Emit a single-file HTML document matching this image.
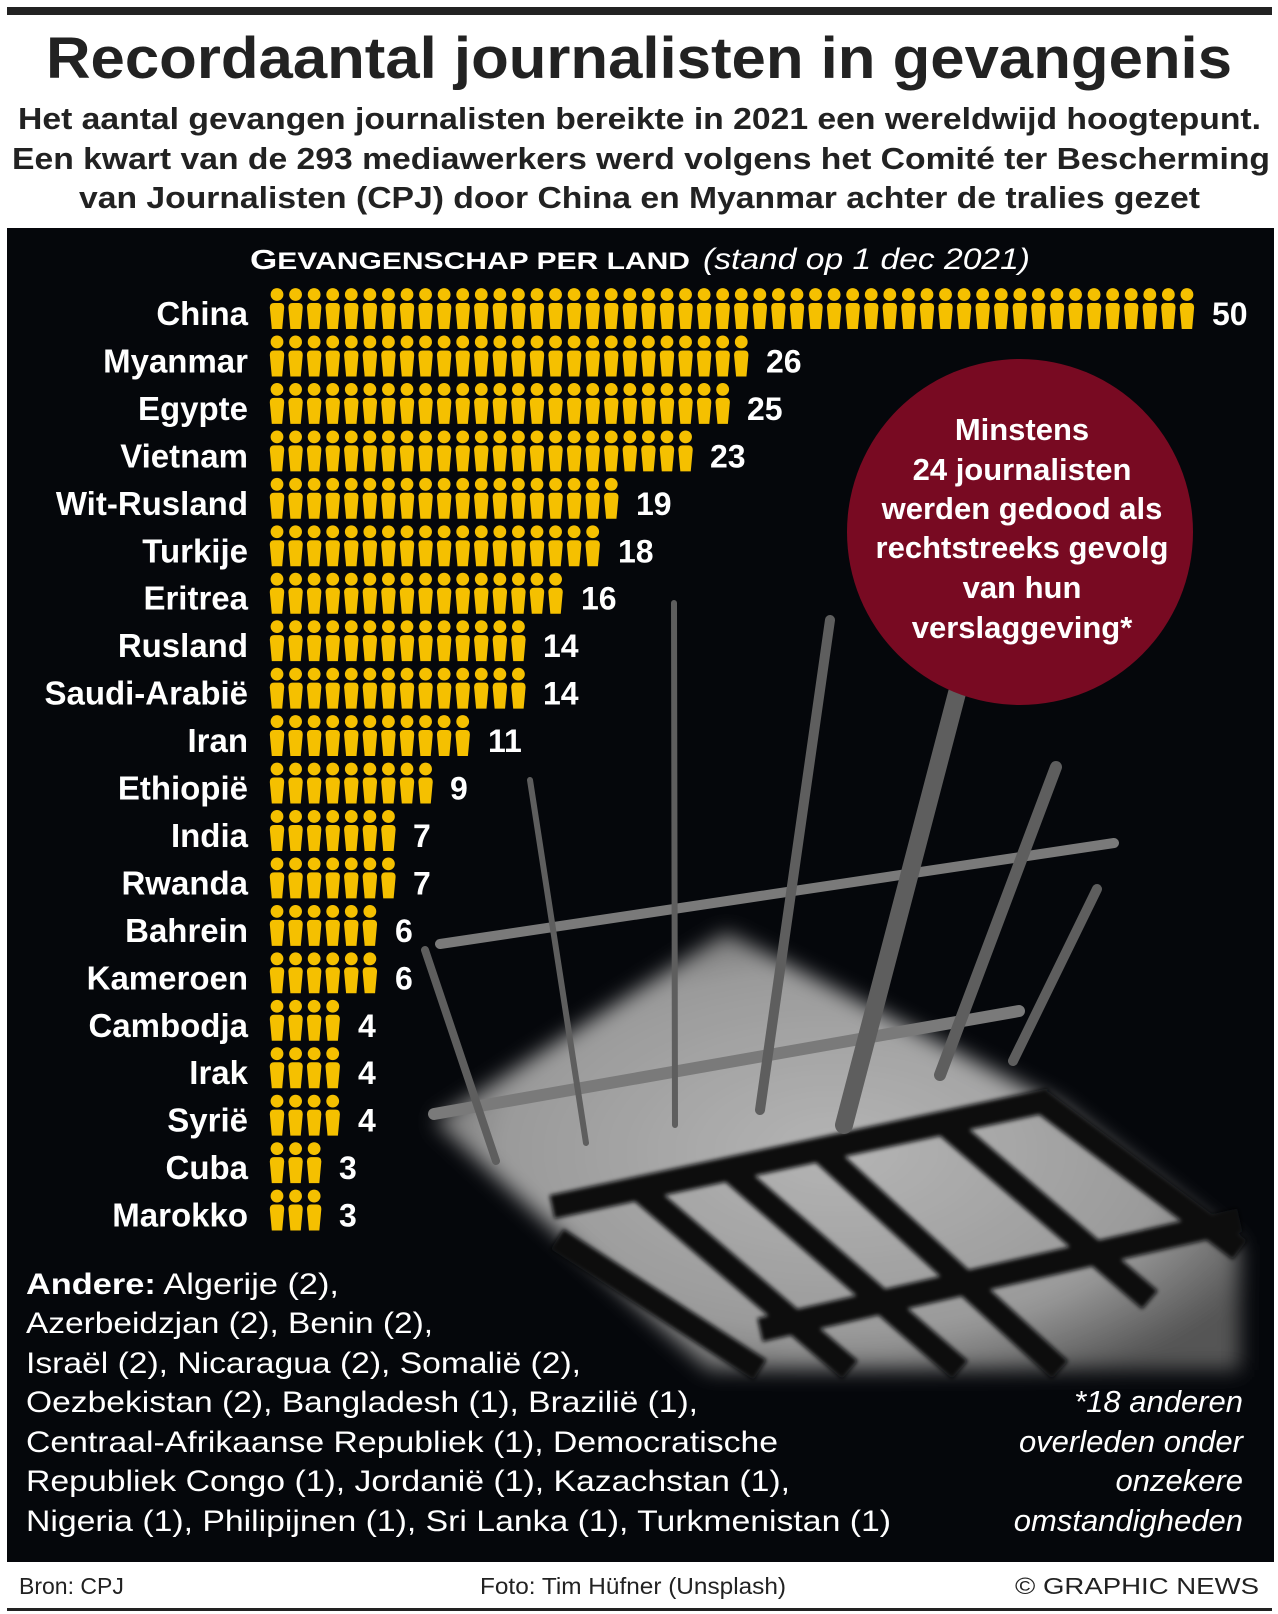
<!DOCTYPE html>
<html><head><meta charset="utf-8"><style>
html,body{margin:0;padding:0;background:#fff}
svg{display:block}
text{font-family:"Liberation Sans",sans-serif}
</style></head><body>
<svg width="1278" height="1614" viewBox="0 0 1278 1614" xmlns="http://www.w3.org/2000/svg">
<defs>
<g id="p"><circle cx="0" cy="6.5" r="6.4"/><path d="M-7.2,19.5 Q-7.2,15 -3,15 L3,15 Q7.2,15 7.2,19.5 L5.2,41 L-5.2,41 Z"/></g>
<g id="b5"><use href="#p" x="0" y="0"/><use href="#p" x="18.57" y="0"/><use href="#p" x="37.14" y="0"/><use href="#p" x="55.71" y="0"/><use href="#p" x="74.28" y="0"/></g>
<filter id="bl"><feGaussianBlur stdDeviation="10"/></filter>
<filter id="bl2"><feGaussianBlur stdDeviation="2"/></filter>
<radialGradient id="lit" cx="0.5" cy="0.5" r="0.6">
<stop offset="0" stop-color="#b4b4b4"/><stop offset="0.7" stop-color="#9a9a9a"/><stop offset="1" stop-color="#555"/>
</radialGradient>
</defs>
<rect x="7" y="7" width="1265" height="8" fill="#222"/>
<rect x="7" y="228" width="1267" height="1334" fill="#05070b"/>
<polygon points="726,932 1058,1104 1240,1246 1240,1370 709,1370 434,1121" fill="url(#lit)" filter="url(#bl)"/>
<g stroke="#07080b" stroke-width="24" filter="url(#bl2)">
<line x1="552" y1="1207" x2="1050" y2="1100"/>
<line x1="760" y1="1330" x2="1240" y2="1220"/>
<line x1="557" y1="1239" x2="760" y2="1370"/>
<line x1="640" y1="1190" x2="850" y2="1370"/>
<line x1="730" y1="1170" x2="960" y2="1370"/>
<line x1="820" y1="1150" x2="1060" y2="1370"/>
<line x1="940" y1="1120" x2="1150" y2="1300"/>
<line x1="1040" y1="1100" x2="1240" y2="1250"/>
</g>
<g stroke="#5e5e5e" stroke-linecap="round">
<line x1="440" y1="944" x2="1114" y2="843" stroke-width="10" stroke="#7a7a7a"/>
<line x1="434" y1="1114" x2="1019" y2="1011" stroke-width="12" stroke="#7a7a7a"/>
<line x1="674" y1="603" x2="675" y2="1125" stroke-width="6"/>
<line x1="830" y1="620" x2="760" y2="1110" stroke-width="10"/>
<line x1="957" y1="693" x2="844" y2="1125" stroke-width="18"/>
<line x1="1056" y1="767" x2="940" y2="1075" stroke-width="12"/>
<line x1="1097" y1="889" x2="1013" y2="1061" stroke-width="10"/>
<line x1="425" y1="950" x2="496" y2="1161" stroke-width="8"/>
<line x1="530" y1="780" x2="586" y2="1143" stroke-width="6"/>
</g>
<circle cx="1020" cy="532" r="173" fill="#780a22"/>
<g fill="#fff" font-weight="bold" font-size="31" text-anchor="middle">
<text x="1022" y="440">Minstens</text>
<text x="1022" y="480">24 journalisten</text>
<text x="1022" y="519">werden gedood als</text>
<text x="1022" y="558">rechtstreeks gevolg</text>
<text x="1022" y="598">van hun</text>
<text x="1022" y="638">verslaggeving*</text>
</g>
<text x="46" y="78" font-size="58" font-weight="bold" fill="#222" textLength="1186" lengthAdjust="spacingAndGlyphs">Recordaantal journalisten in gevangenis</text>
<g font-size="31" font-weight="bold" fill="#222">
<text x="18" y="129" textLength="1243" lengthAdjust="spacingAndGlyphs">Het aantal gevangen journalisten bereikte in 2021 een wereldwijd hoogtepunt.</text>
<text x="12" y="169" textLength="1258" lengthAdjust="spacingAndGlyphs">Een kwart van de 293 mediawerkers werd volgens het Comité ter Bescherming</text>
<text x="79" y="208" textLength="1121" lengthAdjust="spacingAndGlyphs">van Journalisten (CPJ) door China en Myanmar achter de tralies gezet</text>
</g>
<text x="250" y="269" font-size="28" fill="#fff" font-weight="bold" textLength="440" lengthAdjust="spacingAndGlyphs">G<tspan font-size="24">EVANGENSCHAP PER LAND</tspan></text>
<text x="703" y="269" font-size="30" fill="#fff" font-style="italic" textLength="327" lengthAdjust="spacingAndGlyphs">(stand op 1 dec 2021)</text>
<g fill="#f5c000">
<use href="#b5" x="277" y="288"/><use href="#b5" x="369.85" y="288"/><use href="#b5" x="462.7" y="288"/><use href="#b5" x="555.55" y="288"/><use href="#b5" x="648.4" y="288"/><use href="#b5" x="741.25" y="288"/><use href="#b5" x="834.1" y="288"/><use href="#b5" x="926.95" y="288"/><use href="#b5" x="1019.8" y="288"/><use href="#b5" x="1112.65" y="288"/>
<use href="#b5" x="277" y="335.45"/><use href="#b5" x="369.85" y="335.45"/><use href="#b5" x="462.7" y="335.45"/><use href="#b5" x="555.55" y="335.45"/><use href="#b5" x="648.4" y="335.45"/><use href="#p" x="741.25" y="335.45"/>
<use href="#b5" x="277" y="382.9"/><use href="#b5" x="369.85" y="382.9"/><use href="#b5" x="462.7" y="382.9"/><use href="#b5" x="555.55" y="382.9"/><use href="#b5" x="648.4" y="382.9"/>
<use href="#b5" x="277" y="430.35"/><use href="#b5" x="369.85" y="430.35"/><use href="#b5" x="462.7" y="430.35"/><use href="#b5" x="555.55" y="430.35"/><use href="#p" x="648.4" y="430.35"/><use href="#p" x="666.97" y="430.35"/><use href="#p" x="685.54" y="430.35"/>
<use href="#b5" x="277" y="477.8"/><use href="#b5" x="369.85" y="477.8"/><use href="#b5" x="462.7" y="477.8"/><use href="#p" x="555.55" y="477.8"/><use href="#p" x="574.12" y="477.8"/><use href="#p" x="592.69" y="477.8"/><use href="#p" x="611.26" y="477.8"/>
<use href="#b5" x="277" y="525.25"/><use href="#b5" x="369.85" y="525.25"/><use href="#b5" x="462.7" y="525.25"/><use href="#p" x="555.55" y="525.25"/><use href="#p" x="574.12" y="525.25"/><use href="#p" x="592.69" y="525.25"/>
<use href="#b5" x="277" y="572.7"/><use href="#b5" x="369.85" y="572.7"/><use href="#b5" x="462.7" y="572.7"/><use href="#p" x="555.55" y="572.7"/>
<use href="#b5" x="277" y="620.15"/><use href="#b5" x="369.85" y="620.15"/><use href="#p" x="462.7" y="620.15"/><use href="#p" x="481.27" y="620.15"/><use href="#p" x="499.84" y="620.15"/><use href="#p" x="518.41" y="620.15"/>
<use href="#b5" x="277" y="667.6"/><use href="#b5" x="369.85" y="667.6"/><use href="#p" x="462.7" y="667.6"/><use href="#p" x="481.27" y="667.6"/><use href="#p" x="499.84" y="667.6"/><use href="#p" x="518.41" y="667.6"/>
<use href="#b5" x="277" y="715.05"/><use href="#b5" x="369.85" y="715.05"/><use href="#p" x="462.7" y="715.05"/>
<use href="#b5" x="277" y="762.5"/><use href="#p" x="369.85" y="762.5"/><use href="#p" x="388.42" y="762.5"/><use href="#p" x="406.99" y="762.5"/><use href="#p" x="425.56" y="762.5"/>
<use href="#b5" x="277" y="809.95"/><use href="#p" x="369.85" y="809.95"/><use href="#p" x="388.42" y="809.95"/>
<use href="#b5" x="277" y="857.4"/><use href="#p" x="369.85" y="857.4"/><use href="#p" x="388.42" y="857.4"/>
<use href="#b5" x="277" y="904.85"/><use href="#p" x="369.85" y="904.85"/>
<use href="#b5" x="277" y="952.3"/><use href="#p" x="369.85" y="952.3"/>
<use href="#p" x="277" y="999.75"/><use href="#p" x="295.57" y="999.75"/><use href="#p" x="314.14" y="999.75"/><use href="#p" x="332.71" y="999.75"/>
<use href="#p" x="277" y="1047.2"/><use href="#p" x="295.57" y="1047.2"/><use href="#p" x="314.14" y="1047.2"/><use href="#p" x="332.71" y="1047.2"/>
<use href="#p" x="277" y="1094.65"/><use href="#p" x="295.57" y="1094.65"/><use href="#p" x="314.14" y="1094.65"/><use href="#p" x="332.71" y="1094.65"/>
<use href="#p" x="277" y="1142.1"/><use href="#p" x="295.57" y="1142.1"/><use href="#p" x="314.14" y="1142.1"/>
<use href="#p" x="277" y="1189.55"/><use href="#p" x="295.57" y="1189.55"/><use href="#p" x="314.14" y="1189.55"/>
</g>
<g fill="#fff" font-weight="bold" font-size="33" text-anchor="end">
<text x="248" y="325">China</text>
<text x="248" y="372.45">Myanmar</text>
<text x="248" y="419.9">Egypte</text>
<text x="248" y="467.35">Vietnam</text>
<text x="248" y="514.8">Wit-Rusland</text>
<text x="248" y="562.25">Turkije</text>
<text x="248" y="609.7">Eritrea</text>
<text x="248" y="657.15">Rusland</text>
<text x="248" y="704.6">Saudi-Arabië</text>
<text x="248" y="752.05">Iran</text>
<text x="248" y="799.5">Ethiopië</text>
<text x="248" y="846.95">India</text>
<text x="248" y="894.4">Rwanda</text>
<text x="248" y="941.85">Bahrein</text>
<text x="248" y="989.3">Kameroen</text>
<text x="248" y="1036.75">Cambodja</text>
<text x="248" y="1084.2">Irak</text>
<text x="248" y="1131.65">Syrië</text>
<text x="248" y="1179.1">Cuba</text>
<text x="248" y="1226.55">Marokko</text>
</g>
<g fill="#fff" font-weight="bold" font-size="32">
<text x="1212" y="325">50</text>
<text x="766" y="372.45">26</text>
<text x="747" y="419.9">25</text>
<text x="710" y="467.35">23</text>
<text x="636" y="514.8">19</text>
<text x="618" y="562.25">18</text>
<text x="581" y="609.7">16</text>
<text x="543" y="657.15">14</text>
<text x="543" y="704.6">14</text>
<text x="488" y="752.05">11</text>
<text x="450" y="799.5">9</text>
<text x="413" y="846.95">7</text>
<text x="413" y="894.4">7</text>
<text x="395" y="941.85">6</text>
<text x="395" y="989.3">6</text>
<text x="358" y="1036.75">4</text>
<text x="358" y="1084.2">4</text>
<text x="358" y="1131.65">4</text>
<text x="339" y="1179.1">3</text>
<text x="339" y="1226.55">3</text>
</g>
<g fill="#fff" font-size="30">
<text x="26" y="1294" textLength="313" lengthAdjust="spacingAndGlyphs"><tspan font-weight="bold">Andere:</tspan> Algerije (2),</text>
<text x="26" y="1333" textLength="407" lengthAdjust="spacingAndGlyphs">Azerbeidzjan (2), Benin (2),</text>
<text x="26" y="1373" textLength="555" lengthAdjust="spacingAndGlyphs">Israël (2), Nicaragua (2), Somalië (2),</text>
<text x="26" y="1412" textLength="672" lengthAdjust="spacingAndGlyphs">Oezbekistan (2), Bangladesh (1), Brazilië (1),</text>
<text x="26" y="1452" textLength="752" lengthAdjust="spacingAndGlyphs">Centraal-Afrikaanse Republiek (1), Democratische</text>
<text x="26" y="1491" textLength="764" lengthAdjust="spacingAndGlyphs">Republiek Congo (1), Jordanië (1), Kazachstan (1),</text>
<text x="26" y="1531" textLength="865" lengthAdjust="spacingAndGlyphs">Nigeria (1), Philipijnen (1), Sri Lanka (1), Turkmenistan (1)</text>
</g>
<g fill="#fff" font-size="31" font-style="italic" text-anchor="end">
<text x="1243" y="1412">*18 anderen</text>
<text x="1243" y="1452">overleden onder</text>
<text x="1243" y="1491">onzekere</text>
<text x="1243" y="1531">omstandigheden</text>
</g>
<g fill="#222" font-size="23">
<text x="19" y="1594">Bron: CPJ</text>
<text x="480" y="1594" textLength="306" lengthAdjust="spacingAndGlyphs">Foto: Tim Hüfner (Unsplash)</text>
<text x="1015" y="1594" textLength="244" lengthAdjust="spacingAndGlyphs">© GRAPHIC NEWS</text>
</g>
<rect x="7" y="1608" width="1265" height="3" fill="#222"/>
</svg>
</body></html>
